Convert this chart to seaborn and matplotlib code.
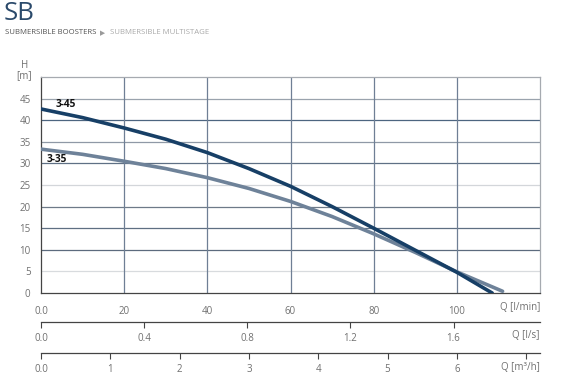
import numpy as np
import pandas as pd
import matplotlib
matplotlib.use('Agg')
import matplotlib.pyplot as plt
import seaborn as sns

# pump curves, Q [l/min] vs H [m]
q_345 = [0, 10, 20, 30, 40, 50, 60, 70, 80, 90, 100, 108.5]
h_345 = [42.6, 40.6, 38.2, 35.6, 32.5, 28.8, 24.7, 20.0, 15.0, 9.9, 4.8, 0.0]
q_335 = [0, 10, 20, 30, 40, 50, 60, 70, 80, 90, 100, 111]
h_335 = [33.3, 32.1, 30.5, 28.8, 26.7, 24.2, 21.2, 17.7, 13.7, 9.4, 4.9, 0.4]

x_ticks = [0, 20, 40, 60, 80, 100]
x_labels = ['0.0', '20', '40', '60', '80', '100']
y_ticks = [0, 5, 10, 15, 20, 25, 30, 35, 40, 45]
ls_ticks = [0, 0.4, 0.8, 1.2, 1.6]
ls_labels = ['0.0', '0.4', '0.8', '1.2', '1.6']
m3h_ticks = [0, 1, 2, 3, 4, 5, 6, 7]
m3h_labels = ['0.0', '1', '2', '3', '4', '5', '6', '']

sns.set_style('white')
plt.rcParams['font.family'] = ['Open Sans', 'DejaVu Sans']

c_dark = '#173f66'
c_grey = '#6e8299'
c_txt = '#707070'

fig = plt.figure(figsize=(5.73, 3.89), dpi=100)
ax = fig.add_axes([41/573, 1-293/389, 499/573, 216/389])

df1 = pd.DataFrame({'Q': q_345, 'H': h_345})
df2 = pd.DataFrame({'Q': q_335, 'H': h_335})
sns.lineplot(data=df2, x='Q', y='H', ax=ax, color=c_grey, lw=2.6, zorder=3)
sns.lineplot(data=df1, x='Q', y='H', ax=ax, color=c_dark, lw=2.6, zorder=4)

ax.set_xlim(0, 120)
ax.set_ylim(0, 50)

# grid (mixed shades like the original print)
hgrid_cols = ['#9aa3ad', '#4d6580', '#8f99a6', '#5f7085', '#d3d6da',
              '#6e7a88', '#5f6f82', '#5c6b7e', '#d8dbde']
for yv, c in zip(y_ticks[1:][::-1], hgrid_cols):
    ax.axhline(yv, color=c, lw=0.9, zorder=1)
for xv in x_ticks[1:]:
    ax.axvline(xv, color='#6f7f95', lw=0.9, zorder=1)

for s in ['top', 'right']:
    ax.spines[s].set_color('#a6aab0')
    ax.spines[s].set_linewidth(0.9)
for s in ['left', 'bottom']:
    ax.spines[s].set_color('#444444')
    ax.spines[s].set_linewidth(0.9)

ax.set_xticks(x_ticks)
ax.set_xticklabels(x_labels)
ax.set_yticks(y_ticks)
ax.tick_params(axis='both', direction='out', length=4.5, width=0.8,
               color='#444444', labelsize=7, labelcolor=c_txt, pad=3)
ax.tick_params(axis='x', pad=5)
ax.set_xlabel('')
ax.set_ylabel('')

ax.text(3.6, 43.6, '3-45', fontsize=7.3, fontweight='bold', color='#111111', va='center')
ax.text(1.4, 30.9, '3-35', fontsize=7.3, fontweight='bold', color='#111111', va='center')

ax.text(-4, 51.5, 'H\n[m]', fontsize=7, color=c_txt, ha='center', va='center',
        linespacing=0.85, clip_on=False)

# extra flow scales below
ls_ax = ax.secondary_xaxis(-29/216, functions=(lambda q: q / 62, lambda v: v * 62))
ls_ax.set_xticks(ls_ticks)
ls_ax.set_xticklabels(ls_labels)
m3_ax = ax.secondary_xaxis(-60/216, functions=(lambda q: q * 0.06, lambda v: v / 0.06))
m3_ax.set_xticks(m3h_ticks)
m3_ax.set_xticklabels(m3h_labels)
for sa in (ls_ax, m3_ax):
    sa.spines['bottom'].set_color('#444444')
    sa.spines['bottom'].set_linewidth(0.9)
    sa.tick_params(direction='out', length=4, width=0.8, color='#444444',
                   labelsize=7, labelcolor=c_txt, pad=4)

fig.text(540/573, 1-308/389, 'Q [l/min]', fontsize=7, color=c_txt, ha='right', va='center')
fig.text(540/573, 1-336/389, 'Q [l/s]', fontsize=7, color=c_txt, ha='right', va='center')
fig.text(540/573, 1-368/389, 'Q [m³/h]', fontsize=7, color=c_txt, ha='right', va='center')

fig.text(4/573, 1-14/389, 'SB', fontsize=18.5, color='#2b4a6b', ha='left', va='center')
fig.text(5/573, 1-33/389, 'SUBMERSIBLE BOOSTERS', fontsize=5.6, color='#555555',
         ha='left', va='center')
fig.text(100/573, 1-33/389, '▶', fontsize=4.8, color='#9a9a9a', ha='left', va='center',
         family=['DejaVu Sans'])
fig.text(110/573, 1-33/389, 'SUBMERSIBLE MULTISTAGE', fontsize=5.6, color='#aaaaaa',
         ha='left', va='center')

fig.savefig('out.png', dpi=100)
